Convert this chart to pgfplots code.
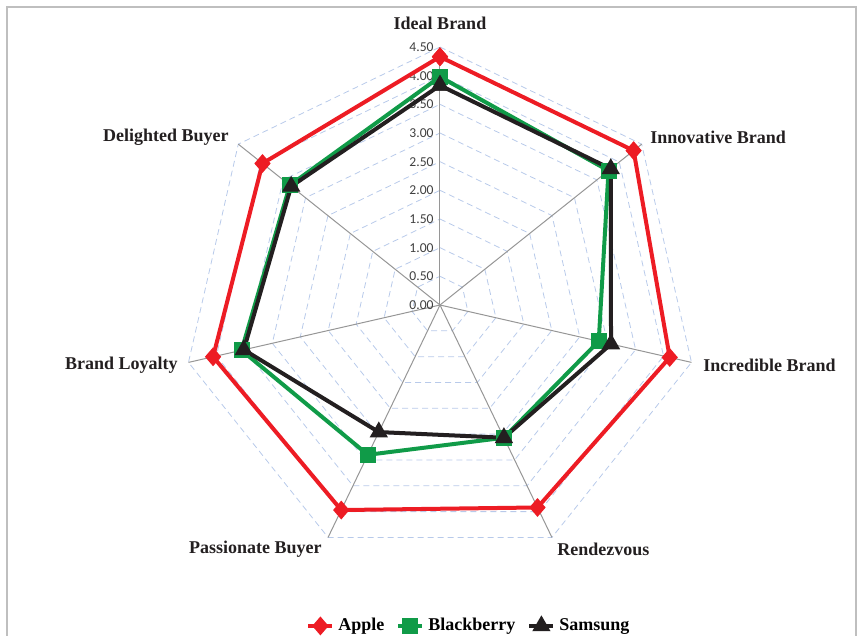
\documentclass[border=0pt]{standalone}
\usepackage{pgfplots}
\pgfplotsset{compat=1.18}
\usepgfplotslibrary{polar}
\usepackage{fontspec}
\setmainfont{Liberation Serif}
\newfontfamily\calibri{Carlito}
\definecolor{apple}{RGB}{237,28,36}
\definecolor{bberry}{RGB}{16,155,72}
\definecolor{samsung}{RGB}{35,31,32}
\definecolor{gridblue}{RGB}{184,202,234}
\definecolor{spoke}{RGB}{150,150,150}
\definecolor{frame}{RGB}{191,191,191}
\definecolor{ticktext}{RGB}{64,64,64}

\begin{document}
\begin{tikzpicture}
\useasboundingbox (-220pt,-165.5pt) rectangle (211pt,152.5pt);
\draw[line width=1pt, frame] (-216.5pt,-170pt) -- (-216.5pt,149pt) -- (208pt,149pt) -- (208pt,-170pt);
\begin{polaraxis}[
    at={(0,0)}, anchor=center,
    scale only axis, width=258pt, height=258pt,
    ymin=0, ymax=4.5,
    hide axis, clip=false,
    legend style={at={(axis description cs:0.558,-0.122)}, anchor=center,
        draw=none, fill=none, legend columns=3, font=\fontsize{9}{10}\selectfont\bfseries,
        inner sep=0pt,
        /tikz/every even column/.append style={column sep=4pt}},
    legend cell align=left,
    legend image code/.code={\draw[mark repeat=2,mark phase=2] plot coordinates {(0pt,0pt)(6pt,0pt)(12pt,0pt)};},
]
% heptagon grid
\pgfplotsinvokeforeach{0.5,1,1.5,2,2.5,3,3.5,4,4.5}{
  \addplot[forget plot, gridblue, densely dashed, line width=0.4pt, mark=none]
    coordinates {(90,#1)(38.571,#1)(-12.857,#1)(-64.286,#1)(-115.714,#1)(-167.143,#1)(141.429,#1)(90,#1)};
}
% spokes
\pgfplotsinvokeforeach{90,38.571,-12.857,-64.286,-115.714,-167.143,141.429}{
  \addplot[forget plot, spoke, line width=0.5pt, mark=none] coordinates {(#1,0)(#1,4.5)};
}
% radial tick labels
\pgfplotsinvokeforeach{0,0.5,1,1.5,2,2.5,3,3.5,4,4.5}{
  \node[anchor=east, inner sep=0pt, xshift=-3pt, text=ticktext, font=\calibri\fontsize{6.8}{7}\selectfont]
    at (axis cs:90,#1) {\pgfmathprintnumber[fixed, fixed zerofill, precision=2, assume math mode=true]{#1}};
}

\addplot[apple, line width=2pt, mark=diamond*, mark size=3.2pt, mark options={solid, xscale=1.15}]
  coordinates {(90,4.33)(38.571,4.32)(-12.857,4.11)(-64.286,3.92)(-115.714,3.97)(-167.143,4.06)(141.429,3.96)(90,4.33)};
\addlegendentry{Apple}
\addplot[bberry, line width=2pt, mark=square*, mark size=3pt, mark options={solid}]
  coordinates {(90,3.98)(38.571,3.76)(-12.857,2.84)(-64.286,2.57)(-115.714,2.90)(-167.143,3.55)(141.429,3.35)(90,3.98)};
\addlegendentry{Blackberry}
\addplot[samsung, line width=2pt, mark=triangle*, mark size=3.3pt, mark options={solid}]
  coordinates {(90,3.83)(38.571,3.81)(-12.857,3.06)(-64.286,2.57)(-115.714,2.46)(-167.143,3.51)(141.429,3.32)(90,3.83)};
\addlegendentry{Samsung}
\end{polaraxis}

\begin{scope}[every node/.style={inner sep=0pt, font=\fontsize{9}{10}\selectfont\bfseries, text=samsung}]
\node at (0,141pt) {Ideal Brand};
\node[anchor=west] at (105pt,84pt) {Innovative Brand};
\node[anchor=west] at (131.5pt,-30pt) {Incredible Brand};
\node[anchor=west] at (58.5pt,-122pt) {Rendezvous};
\node[anchor=east] at (-59pt,-122pt) {Passionate Buyer};
\node[anchor=east] at (-131pt,-30pt) {Brand Loyalty};
\node[anchor=east] at (-105.5pt,84pt) {Delighted Buyer};
\end{scope}
\end{tikzpicture}
\end{document}
